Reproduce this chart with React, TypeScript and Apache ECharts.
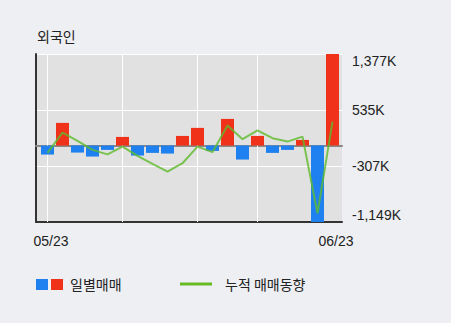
import React, { useEffect, useRef } from "react";
import * as echarts from "echarts";

const dates = [
  "05/23", "05/24", "05/25", "05/26", "05/27", "05/30", "05/31", "06/02", "06/03", "06/07",
  "06/08", "06/09", "06/10", "06/13", "06/14", "06/15", "06/16", "06/17", "06/22", "06/23",
];
// 일별매매 (K)
const daily = [
  -135, 341, -105, -165, -65, 130, -150, -110, -120, 145,
  266, -80, 401, -210, 145, -110, -65, 85, -1149, 1377,
];
// 누적 매매동향 (scaled onto the same axis)
const trend = [
  -110, 196, 71, -65, -132, -15, -155, -275, -391, -265,
  -15, -99, 301, 96, 229, 111, 60, 135, -1017, 361,
];
const yTicks = [-1149, -307, 535, 1377];
const gridCats = ["05/23", "05/30", "06/08", "06/14"];

const NUM_FONT = "Liberation Sans";
const KR_FONT = "Noto Sans CJK KR";

function fmt(v: number) {
  const s = Math.abs(v).toLocaleString("en-US");
  return (v < 0 ? "-" : "") + s + "K";
}

export default function App() {
  const ref = useRef<HTMLDivElement>(null);
  useEffect(() => {
    document.body.style.margin = "0";
    const chart = echarts.init(ref.current!, null, { renderer: "svg" });
    const yMin = yTicks[0];
    const yMax = yTicks[yTicks.length - 1];
    const interval = yTicks[1] - yTicks[0];
    chart.setOption({
      animation: false,
      backgroundColor: "#eeeff3",
      title: {
        text: "외국인",
        left: 37,
        top: 29,
        padding: 0,
        textStyle: { fontFamily: KR_FONT, fontSize: 14, fontWeight: "normal", color: "#222" },
      },
      grid: [
        { left: 36, right: 109, top: 54, bottom: 101, show: true, backgroundColor: "#e1e1e1", borderWidth: 0 },
        { left: 40, right: 111, top: 54, bottom: 101 },
      ],
      xAxis: [
        {
          type: "value", gridIndex: 0, min: 0, max: 1, position: "bottom",
          axisLine: { show: true, onZero: false, lineStyle: { color: "#333", width: 2 } },
          axisTick: { show: false }, axisLabel: { show: false }, splitLine: { show: false },
        },
        {
          type: "value", gridIndex: 0, min: 0, max: 1,
          axisLine: { show: true, onZero: true, lineStyle: { color: "#888", width: 2 } },
          axisTick: { show: false }, axisLabel: { show: false }, splitLine: { show: false },
        },
        {
          type: "category", gridIndex: 1, data: dates, position: "bottom",
          axisLine: { show: false, onZero: false }, axisTick: { show: false }, splitLine: { show: false },
          axisLabel: {
            interval: (i: number) => i === 0 || i === dates.length - 1,
            color: "#222", fontFamily: NUM_FONT, fontSize: 14, margin: 12, padding: [0, 0, 0, 7],
          },
        },
      ],
      yAxis: [
        {
          type: "value", gridIndex: 0, min: yMin, max: yMax, interval, position: "right",
          axisLine: { show: false }, axisTick: { show: false },
          splitLine: { show: true, lineStyle: { color: "#ffffff", width: 1 } },
          axisLabel: {
            color: "#222", fontFamily: NUM_FONT, fontSize: 14, margin: 10,
            formatter: (v: number) => fmt(v),
            verticalAlignMaxLabel: "top", verticalAlignMinLabel: "bottom",
          },
        },
        {
          type: "value", gridIndex: 0, min: yMin, max: yMax, interval, position: "left",
          axisLine: { show: true, onZero: false, lineStyle: { color: "#333", width: 2 } },
          axisTick: { show: false }, axisLabel: { show: false }, splitLine: { show: false },
        },
        { type: "value", gridIndex: 1, min: yMin, max: yMax, show: false },
      ],
      series: [
        {
          type: "bar", xAxisIndex: 2, yAxisIndex: 2, data: daily, barWidth: 13, z: 2,
          itemStyle: { color: (p: any) => (p.value >= 0 ? "#f0321a" : "#1f80ef") },
          markLine: {
            silent: true, symbol: "none", z: 1, label: { show: false },
            lineStyle: { color: "#ffffff", width: 1, type: "solid" },
            data: gridCats.map((c) => ({ xAxis: c })),
          },
        },
        {
          type: "line", xAxisIndex: 2, yAxisIndex: 2, data: trend, symbol: "none", z: 3,
          lineStyle: { color: "#5fba2c", width: 2, opacity: 0.8 },
        },
      ],
      graphic: [
        { type: "rect", shape: { x: 36, y: 279, width: 12, height: 11 }, style: { fill: "#1f80ef" } },
        { type: "rect", shape: { x: 51, y: 279, width: 12, height: 11 }, style: { fill: "#f0321a" } },
        {
          type: "text", x: 70, y: 284,
          style: { text: "일별매매", fontFamily: KR_FONT, fontSize: 14, fill: "#222", verticalAlign: "middle" },
        },
        { type: "line", shape: { x1: 180, y1: 284, x2: 212, y2: 284 }, style: { stroke: "#66bb22", lineWidth: 3 } },
        {
          type: "text", x: 225, y: 284,
          style: { text: "누적 매매동향", fontFamily: KR_FONT, fontSize: 14, fill: "#222", verticalAlign: "middle" },
        },
      ],
    });
    return () => chart.dispose();
  }, []);
  return <div ref={ref} style={{ width: 451, height: 323 }} />;
}
